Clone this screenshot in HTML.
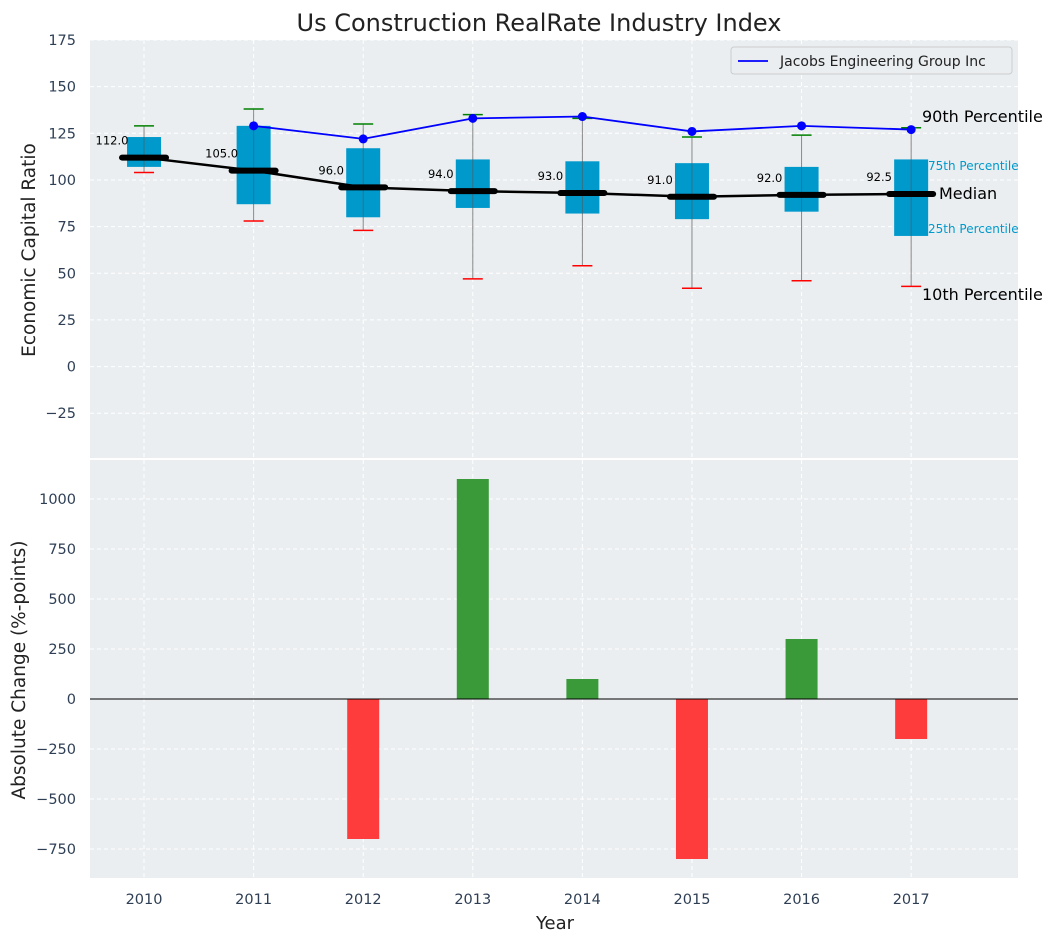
<!DOCTYPE html>
<html><head><meta charset="utf-8"><style>
body{margin:0;background:#fff;font-family:"Liberation Sans","DejaVu Sans",sans-serif}
</style></head><body>
<svg id="c" width="1057" height="942" xmlns="http://www.w3.org/2000/svg" font-family="DejaVu Sans, Liberation Sans, sans-serif"></svg>
<script>
const years=[2010,2011,2012,2013,2014,2015,2016,2017];
const p10=[104,78,73,47,54,42,46,43];
const p25=[107,87,80,85,82,79,83,70];
const med=[112,105,96,94,93,91,92,92.5];
const p75=[123,129,117,111,110,109,107,111];
const p90=[129,138,130,135,133,123,124,128];
const jacYears=[2011,2012,2013,2014,2015,2016,2017];
const jacVals=[129,122,133,134,126,129,127];
const chg=[0,0,-700,1100,100,-800,300,-200];
const topTicks=[-25,0,25,50,75,100,125,150,175];
const botTicks=[-750,-500,-250,0,250,500,750,1000];

const svg=document.getElementById('c');
const NS='http://www.w3.org/2000/svg';
function el(t,a,txt){const e=document.createElementNS(NS,t);for(const k in a)e.setAttribute(k,a[k]);if(txt!==undefined)e.textContent=txt;svg.appendChild(e);return e;}
const L=90,R=1018;
const X=v=>L+(v-2009.507)/(2017.975-2009.507)*(R-L);
const T0=40,T1=458,B0=460,B1=878;
const Y1=v=>T1-(v-(-49))/(175-(-49))*(T1-T0);
const Y2=v=>B1-(v-(-895))/(1195-(-895))*(B1-B0);

let e;
e=el('rect',{x:L,y:T0,width:R-L,height:T1-T0,fill:'#eaeef0'});

e=el('rect',{x:L,y:B0,width:R-L,height:B1-B0,fill:'#eaeef0'});


years.forEach(y=>{
 el('line',{x1:X(y),x2:X(y),y1:T0,y2:T1,stroke:'#fff','stroke-dasharray':'4,3','stroke-width':1});
 el('line',{x1:X(y),x2:X(y),y1:B0,y2:B1,stroke:'#fff','stroke-dasharray':'4,3','stroke-width':1});
 e=el('text',{x:X(y),y:904,'text-anchor':'middle','font-size':14.5,fill:'#2e3f55'},y);
 
});
topTicks.forEach(t=>{
 el('line',{x1:L,x2:R,y1:Y1(t),y2:Y1(t),stroke:'#fff','stroke-dasharray':'4,3'});
 e=el('text',{x:L-14,y:Y1(t)+5,'text-anchor':'end','font-size':14.5,fill:'#2e3f55'},t<0?'−'+(-t):t);
 
});
botTicks.forEach(t=>{
 el('line',{x1:L,x2:R,y1:Y2(t),y2:Y2(t),stroke:'#fff','stroke-dasharray':'4,3'});
 e=el('text',{x:L-14,y:Y2(t)+5,'text-anchor':'end','font-size':14.5,fill:'#2e3f55'},t<0?'−'+(-t):t);
 
});

years.forEach((y,i)=>{
 const cx=X(y);
 e=el('line',{x1:cx,x2:cx,y1:Y1(p10[i]),y2:Y1(p90[i]),stroke:'#888','stroke-width':1});
 
 e=el('rect',{x:cx-17,y:Y1(p75[i]),width:34,height:Y1(p25[i])-Y1(p75[i]),fill:'#0099cc'});
 
 el('line',{x1:cx,x2:cx,y1:Y1(p25[i]),y2:Y1(p75[i]),stroke:'#555','stroke-width':1,opacity:0.6});
 e=el('line',{x1:cx-10,x2:cx+10,y1:Y1(p10[i]),y2:Y1(p10[i]),stroke:'red','stroke-width':1.5});
 
 e=el('line',{x1:cx-10,x2:cx+10,y1:Y1(p90[i]),y2:Y1(p90[i]),stroke:'green','stroke-width':1.5});
 
});
e=el('polyline',{points:years.map((y,i)=>X(y)+','+Y1(med[i])).join(' '),fill:'none',stroke:'#000','stroke-width':2.5});

years.forEach((y,i)=>{
 e=el('line',{x1:X(y)-22,x2:X(y)+22,y1:Y1(med[i]),y2:Y1(med[i]),stroke:'#000','stroke-width':6,'stroke-linecap':'round'});
 
 e=el('text',{x:X(y)-32,y:Y1(med[i])-13,'text-anchor':'middle','font-size':11.5,fill:'#000'},med[i].toFixed(1));
 
});
e=el('polyline',{points:jacYears.map((y,i)=>X(y)+','+Y1(jacVals[i])).join(' '),fill:'none',stroke:'blue','stroke-width':1.8});

jacYears.forEach((y,i)=>{
 e=el('circle',{cx:X(y),cy:Y1(jacVals[i]),r:4.5,fill:'blue'});
 
});
[['90th Percentile',922,122,16,'#000'],['75th Percentile',928,170,12,'#0099cc'],['Median',939,199,16,'#000'],['25th Percentile',928,233,12,'#0099cc'],['10th Percentile',922,300,16,'#000']].forEach(a=>{
 e=el('text',{x:a[1],y:a[2],'font-size':a[3],fill:a[4]},a[0]);
 
});
e=el('rect',{x:731,y:47,width:281,height:27,fill:'#eaeef0',stroke:'#ccc',rx:3});

el('line',{x1:738,x2:768,y1:61,y2:61,stroke:'blue','stroke-width':1.8});
e=el('text',{x:780,y:66,'font-size':14,fill:'#222'},'Jacobs Engineering Group Inc');


years.forEach((y,i)=>{
 if(chg[i]===0)return;
 const v=chg[i];
 e=el('rect',{x:X(y)-16,y:Math.min(Y2(v),Y2(0)),width:32,height:Math.abs(Y2(v)-Y2(0)),fill:v>0?'#3a9a3a':'#ff3c3c'});
 
});
el('line',{x1:L,x2:R,y1:Y2(0),y2:Y2(0),stroke:'#000','stroke-width':1});

e=el('text',{x:539,y:31,'text-anchor':'middle','font-size':24,fill:'#222'},'Us Construction RealRate Industry Index');

e=el('text',{x:555,y:929,'text-anchor':'middle','font-size':18,fill:'#222'},'Year');

e=el('text',{x:35,y:250,'text-anchor':'middle','font-size':18.5,fill:'#222',transform:'rotate(-90 35 250)'},'Economic Capital Ratio');

e=el('text',{x:25,y:670,'text-anchor':'middle','font-size':18.5,fill:'#222',transform:'rotate(-90 25 670)'},'Absolute Change (%-points)');

</script>
</body></html>
